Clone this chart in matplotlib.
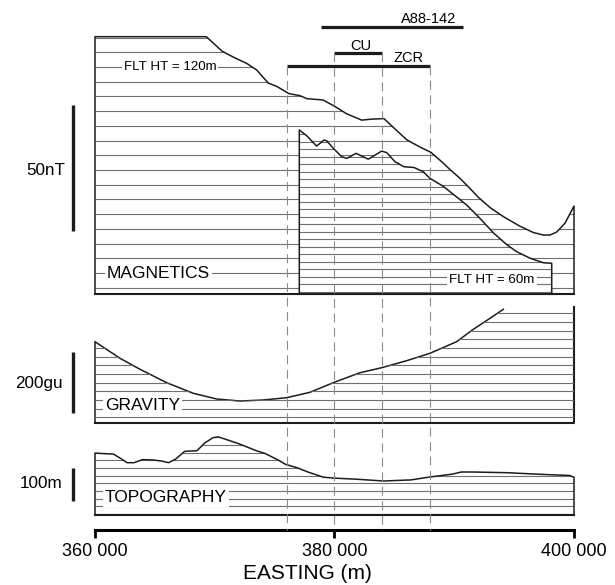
import numpy as np
import matplotlib
matplotlib.use("Agg")
import matplotlib.pyplot as plt
from matplotlib.patches import Polygon

plt.rcParams['font.family'] = ['Liberation Sans', 'DejaVu Sans']

# Magnetics, flight height 120 m (nT above panel base)
mag120_e = [360000, 369300, 370600, 371550, 372670, 373500, 374470, 375170, 376200,
            377120, 377700, 379040, 380040, 381020, 382270, 383110, 384130, 385140,
            386030, 387140, 388060, 388950, 389640, 390480, 391310, 391980, 392990,
            394100, 395490, 396600, 397440, 398000, 398560, 399250, 400000]
mag120_nt = [102.1, 102.1, 96.4, 94.0, 91.5, 88.9, 83.7, 82.4, 79.5,
             78.7, 77.5, 77.0, 74.4, 71.5, 69.0, 69.4, 69.6, 65.1,
             61.2, 58.3, 56.2, 52.5, 49.4, 45.9, 41.9, 38.5, 34.3,
             30.7, 26.9, 24.4, 23.4, 23.4, 24.6, 28.1, 34.9]

# Magnetics, flight height 60 m
mag60_e = [377060, 377680, 378510, 379120, 379370, 379900, 380600, 381020, 381800,
           382820, 383940, 384360, 385050, 385800, 386640, 387420, 387970, 389090,
           390200, 391040, 392150, 393260, 394380, 395210, 396330, 397440, 398140]
mag60_nt = [65.1, 62.8, 58.7, 61.1, 60.7, 57.8, 54.5, 53.8, 55.8,
            53.5, 56.7, 56.1, 52.5, 50.5, 50.2, 48.5, 45.9, 42.7,
            38.5, 35.3, 30.0, 24.3, 19.6, 16.8, 14.2, 12.4, 12.2]

# Gravity (gu above panel base)
grav_e = [360000, 362090, 363760, 365990, 368210, 370160, 372110, 374050, 376010,
          377950, 380040, 382130, 383940, 386030, 387970, 390200, 391590, 392990, 394100]
grav_gu = [265.6, 211.1, 175.1, 131.1, 96.4, 77.7, 71.1, 74.4, 82.0,
           99.7, 133.4, 163.9, 180.3, 203.3, 227.5, 265.6, 306.2, 342.3, 371.8]

# Topography (m above panel base)
topo_e = [360000, 361540, 362110, 362680, 363260, 363970, 364840, 365560, 366140,
          366710, 367490, 368520, 369150, 369870, 370300, 371160, 372020, 373470,
          374190, 375340, 375920, 376920, 377780, 379070, 380080, 381800, 384110,
          386400, 387850, 389860, 390580, 391580, 394460, 396760, 399630, 400000]
topo_m = [185.3, 182.3, 170.1, 156.6, 156.6, 165.9, 164.7, 161.7, 156.6,
          166.8, 190.7, 192.5, 215.3, 231.7, 233.8, 223.7, 213.2, 192.5,
          184.4, 163.8, 151.5, 141.0, 128.7, 113.2, 110.2, 107.2, 101.8,
          105.1, 113.2, 122.5, 128.7, 128.7, 126.6, 122.5, 118.3, 113.2]

# Interpreted intervals along the profile (easting, m)
zone_names = ["A88-142", "CU", "ZCR"]
zone_start = [378900, 380000, 376000]
zone_end = [390700, 384000, 388000]
contacts = [376000, 380000, 384000, 388000]

tick_pos = [360000, 380000, 400000]
tick_labels = ["360 000", "380 000", "400 000"]

INK = '#1c1c1c'
HATCH = '#707070'
DASH = '#8a8a8a'

W, H = 615, 585
fig = plt.figure(figsize=(W / 100, H / 100), dpi=100)
X0, X1 = 95, 574                      # pixel columns of 360 000 and 400 000
m_per_px = 40000 / (X1 - X0)
xlim = (360000 - X0 * m_per_px, 360000 + (W - X0) * m_per_px)


def panel(top, base, bottom, upp):
    ax = fig.add_axes([0, 1 - bottom / H, 1, (bottom - top) / H])
    ax.set_xlim(xlim)
    ax.set_ylim(-(bottom - base) * upp, (base - top) * upp)
    ax.axis('off')
    return ax


def shaded(ax, e, v, levels, white=False, z=2, top_right=None, outline=True):
    xs = [e[0]] + list(e) + [e[-1]]
    ys = [0] + list(v) + [0]
    if top_right is not None:
        xs = [e[0]] + list(e) + [top_right[0], top_right[0]]
        ys = [0] + list(v) + [top_right[1], 0]
    poly = Polygon(np.column_stack([xs, ys]), closed=True,
                   facecolor='white' if white else 'none', edgecolor='none', zorder=z)
    ax.add_patch(poly)
    hl = ax.hlines(levels, xs[0], max(xs), colors=HATCH, lw=0.8, zorder=z + 0.1)
    hl.set_clip_path(poly)
    if outline:
        ax.plot(xs, ys, color=INK, lw=1.1, zorder=z + 0.2)
        ax.plot([xs[-1], xs[0]], [0, 0], color=INK, lw=1.5, zorder=z + 0.2)
    return poly


# ---- magnetics
axm = panel(28, 294, 298, 50 / 126)
shaded(axm, mag120_e, mag120_nt, np.arange(2.5, 102, 5.84), z=2)
shaded(axm, mag60_e, mag60_nt, np.arange(0.9, 66, 2.98), white=True, z=3)
axm.plot([358200, 358200], [25, 75], color=INK, lw=2.4, solid_capstyle='butt')
axm.text(357500, 49.2, "50nT", ha='right', va='center', fontsize=12.3)
box = dict(facecolor='white', edgecolor='none', pad=1.5)
axm.text(362400, 90.2, "FLT HT = 120m", ha='left', va='center', fontsize=9.6, bbox=box, zorder=5)
axm.text(389600, 5.6, "FLT HT = 60m", ha='left', va='center', fontsize=9.6, bbox=box, zorder=5)
axm.text(361000, 8.3, "MAGNETICS", ha='left', va='center', fontsize=12.5, bbox=box, zorder=5)

# ---- gravity
axg = panel(300, 422.7, 427, 200 / 61)
shaded(axg, grav_e, grav_gu, np.arange(17.7, 390, 28.4), top_right=(400000, 380), outline=False)
axg.plot([grav_e[0], grav_e[0]] + grav_e, [0, grav_gu[0]] + grav_gu, color=INK, lw=1.1)
axg.plot([360000, 400000, 400000], [0, 0, 380], color=INK, lw=1.5)
axg.plot([358200, 358200], [32, 232], color=INK, lw=2.4, solid_capstyle='butt')
axg.text(357300, 130, "200gu", ha='right', va='center', fontsize=12.3)
axg.text(360850, 58, "GRAVITY", ha='left', va='center', fontsize=12.5, bbox=box, zorder=5)

# ---- topography
axt = panel(430, 515, 519, 100 / 33.4)
shaded(axt, topo_e, topo_m, np.arange(2.7, 240, 23))
axt.plot([358200, 358200], [42, 142], color=INK, lw=2.4, solid_capstyle='butt')
axt.text(357300, 93, "100m", ha='right', va='center', fontsize=12.3)
axt.text(360820, 51.5, "TOPOGRAPHY", ha='left', va='center', fontsize=12.5, bbox=box, zorder=5)

# ---- overlay: interval bars and contact lines (y in pixels from top)
ov = fig.add_axes([0, 0, 1, 1], zorder=10)
ov.set_xlim(xlim)
ov.set_ylim(H, 0)
ov.axis('off')
bar_y = {"A88-142": 26.7, "CU": 53.3, "ZCR": 65.7}
label_xy = {"A88-142": (387850, 19), "CU": (382200, 46), "ZCR": (386200, 58)}
for name, s, e in zip(zone_names, zone_start, zone_end):
    ov.plot([s, e], [bar_y[name]] * 2, color=INK, lw=2.3, solid_capstyle='butt')
    ov.text(*label_xy[name], name, ha='center', va='center', fontsize=10.5)
for c in contacts:
    top = min(bar_y[n] for n, s, e in zip(zone_names, zone_start, zone_end) if c in (s, e))
    ov.plot([c, c], [top, 530], color=DASH, lw=0.8, linestyle=(0, (8, 5)))

# ---- easting axis
axx = fig.add_axes([0, 1 - 530 / H, 1, 0.0001])
axx.set_xlim(xlim)
axx.patch.set_visible(False)
for s in ('top', 'left', 'right'):
    axx.spines[s].set_visible(False)
axx.spines['bottom'].set_linewidth(2.2)
axx.spines['bottom'].set_bounds(360000, 400000)
axx.set_yticks([])
axx.set_xticks(tick_pos)
axx.set_xticklabels(tick_labels, fontsize=13)
axx.tick_params(axis='x', direction='out', length=6, width=2, pad=3)
axx.set_xlabel("EASTING (m)", fontsize=15, labelpad=3)

fig.savefig("out.png", dpi=100)
